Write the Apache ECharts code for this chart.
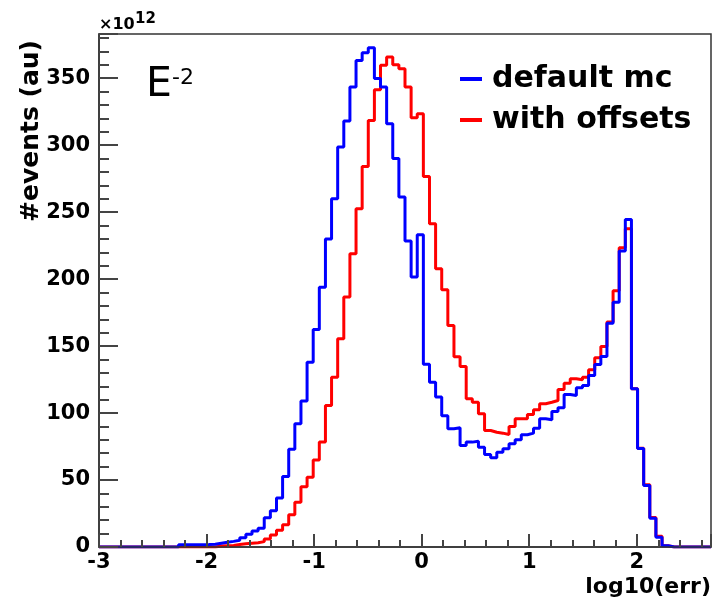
<!DOCTYPE html>
<html>
<head>
<meta charset="utf-8">
<script src="https://cdn.jsdelivr.net/npm/echarts@6/dist/echarts.min.js"></script>
<style>
html,body{margin:0;padding:0;background:#fff;}
#chart{width:714px;height:601px;}
</style>
</head>
<body>
<div id="chart"></div>
<script>
// Histogram binning (x axis: log10(err))
const X_MIN = -3;
const X_MAX = 2.69;
const N_BINS = 100;

// Axis settings
const Y_MAX = 383;
const xTickLabels = ['-3', '-2', '-1', '0', '1', '2'];
const yTickLabels = ['0', '50', '100', '150', '200', '250', '300', '350'];

// Series names
const seriesNames = ['default mc', 'with offsets'];

// Bin contents (units of 1e12), bins 0..99
const defaultMc = [
  0, 0, 0, 0, 0, 0, 0, 0, 0, 0,
  0, 0, 0, 1.6, 1.6, 1.6, 1.7, 1.8, 2.0, 2.8,
  3.6, 4.2, 5.0, 6.9, 9.5, 12, 14, 21.8, 27, 36.6,
  52.6, 73, 92, 109, 138, 162.4, 194, 230, 260, 298.6,
  318, 343.4, 363.3, 369, 372.8, 349.7, 343.4, 316, 290, 261.3,
  228.4, 201.5, 233.2, 136.5, 123, 111.9, 98, 88.3, 89, 75.8,
  78.3, 79, 74.5, 69, 66.6, 70.8, 73.3, 77, 80, 83.8,
  85, 88.7, 95.7, 95, 101.2, 104, 113.9, 113.1, 118.9, 120.6,
  128, 136.3, 142.3, 167.1, 182.8, 220.9, 244.6, 118.1, 73.5, 45.9,
  21.5, 7.3, 1, 0, 0, 0, 0, 0, 0, 0
];
const withOffsets = [
  0, 0, 0, 0, 0, 0, 0, 0, 0, 0,
  0, 0, 0, 0, 0, 0, 0, 0, 0, 0.8,
  1, 1.2, 1.8, 2.4, 2.8, 3.2, 4, 6, 9, 12.5,
  16.6, 24, 33.5, 45, 52.1, 65, 78.3, 105.7, 126.8, 155.5,
  186.6, 219, 252.6, 284, 318.5, 341.4, 359.6, 365.8, 360, 357,
  343.4, 320.5, 323.5, 276.7, 241.4, 207.8, 192, 165.4, 142, 134.8,
  110.7, 108.1, 99.5, 87, 85.7, 85, 84, 90, 95.7, 95.7,
  99, 102.5, 107, 108.1, 109.4, 117.6, 122.3, 125.6, 124.9, 126.8,
  132.3, 141.3, 149.7, 167.9, 191.3, 223.5, 237.6, 118.1, 73.8, 46.5,
  22, 8, 1, 0, 0, 0, 0, 0, 0, 0
];

const BIN_W = (X_MAX - X_MIN) / N_BINS;
function histData(vals) {
  const d = [];
  for (let i = 0; i < vals.length; i++) d.push([X_MIN + i * BIN_W, vals[i]]);
  d.push([X_MAX, vals[vals.length - 1]]);
  return d;
}

const FONT = 'DejaVu Sans';
const TICK_COLOR = '#444444';
const chart = echarts.init(document.getElementById('chart'), null, {renderer: 'canvas'});
chart.setOption({
  animation: false,
  backgroundColor: '#ffffff',
  grid: {left: 99, right: 3, top: 34, bottom: 54, show: true, borderColor: '#333333', borderWidth: 1.5},
  title: [
    {text: '×10', left: 99, top: 17, padding: 0, textStyle: {fontFamily: FONT, fontWeight: 'bold', fontSize: 16, color: '#000000'}},
    {text: '12', left: 135, top: 11.5, padding: 0, textStyle: {fontFamily: FONT, fontWeight: 'bold', fontSize: 15, color: '#000000'}},
    {text: 'E', left: 146, top: 64.5, padding: 0, textStyle: {fontFamily: FONT, fontWeight: 'normal', fontSize: 41, color: '#000000'}},
    {text: '-2', left: 172, top: 67, padding: 0, textStyle: {fontFamily: FONT, fontWeight: 'normal', fontSize: 22, color: '#000000'}},
    {text: 'log10(err)', right: 3, top: 576, padding: 0, textStyle: {fontFamily: FONT, fontWeight: 'bold', fontSize: 22, color: '#000000'}}
  ],
  legend: {
    data: seriesNames, orient: 'vertical', left: 460, top: 64, padding: 0,
    itemGap: 11, itemWidth: 22, itemHeight: 4, icon: 'rect', selectedMode: false,
    textStyle: {fontFamily: FONT, fontWeight: 'bold', fontSize: 30, lineHeight: 30, color: '#000000', padding: [0, 0, 0, 5]}
  },
  xAxis: [{
    type: 'value', position: 'bottom', min: X_MIN, max: X_MAX, interval: 1, z: 10,
    axisLine: {show: true, onZero: false, lineStyle: {color: '#333333', width: 1.5}},
    axisTick: {show: true, inside: true, length: 13, lineStyle: {color: TICK_COLOR, width: 2}},
    minorTick: {show: true, splitNumber: 5, length: 7, lineStyle: {color: TICK_COLOR, width: 2}},
    splitLine: {show: false},
    axisLabel: {showMaxLabel: false, margin: 5, fontFamily: FONT, fontWeight: 'bold', fontSize: 21, color: '#000000',
      formatter: function (v) { const s = String(Math.round(v)); return xTickLabels.indexOf(s) >= 0 && Math.abs(v - Math.round(v)) < 1e-6 ? s : ''; }}
  }],
  yAxis: [{
    type: 'value', position: 'left', min: 0, max: Y_MAX, interval: 50, z: 10,
    axisLine: {show: true, onZero: false, lineStyle: {color: '#333333', width: 1.5}},
    axisTick: {show: true, inside: true, length: 19, lineStyle: {color: TICK_COLOR, width: 2}},
    minorTick: {show: true, splitNumber: 5, length: 10, lineStyle: {color: TICK_COLOR, width: 2}},
    splitLine: {show: false},
    axisLabel: {showMaxLabel: false, margin: 9, fontFamily: FONT, fontWeight: 'bold', fontSize: 21, color: '#000000',
      formatter: function (v) { const s = String(Math.round(v)); return yTickLabels.indexOf(s) >= 0 ? s : ''; }}
  }, {
    type: 'value', position: 'left', offset: 68, min: 0, max: Y_MAX,
    axisLine: {show: false, onZero: false}, axisTick: {show: false}, minorTick: {show: false},
    axisLabel: {show: false}, splitLine: {show: false},
    name: '#events (au)', nameLocation: 'end', nameRotate: 90, nameGap: -188,
    nameTextStyle: {fontFamily: FONT, fontWeight: 'bold', fontSize: 25, color: '#000000'}
  }],
  series: [
    {name: seriesNames[1], type: 'line', step: 'end', symbol: 'none', data: histData(withOffsets),
     color: '#ff0000', itemStyle: {color: '#ff0000'}, lineStyle: {color: '#ff0000', width: 3}, z: 2},
    {name: seriesNames[0], type: 'line', step: 'end', symbol: 'none', data: histData(defaultMc),
     color: '#0000ff', itemStyle: {color: '#0000ff'}, lineStyle: {color: '#0000ff', width: 3}, z: 3}
  ]
});
</script>
</body>
</html>
